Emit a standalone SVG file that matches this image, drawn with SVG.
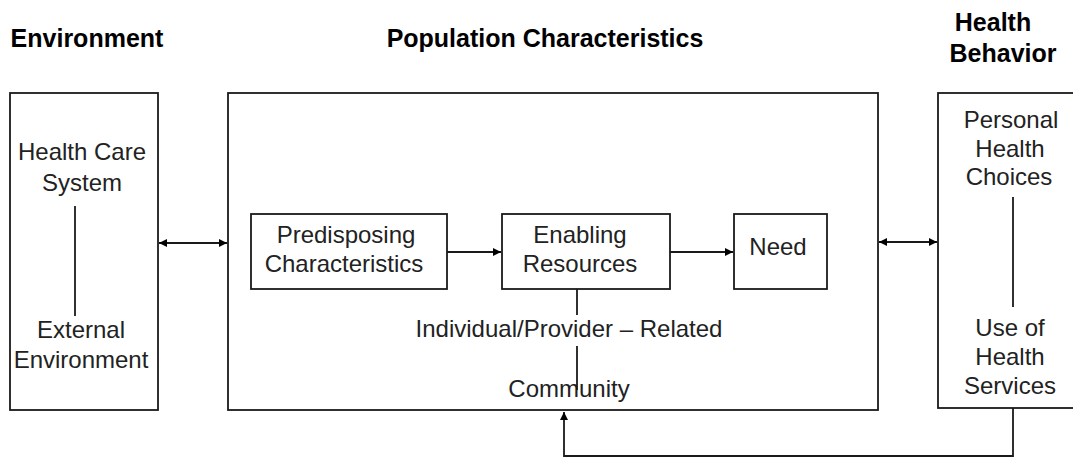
<svg xmlns="http://www.w3.org/2000/svg" width="1073" height="458" viewBox="0 0 1073 458">
<style>
.box{fill:#fff;stroke:#1a1a1a;stroke-width:1.8}
.ln{fill:none;stroke:#1a1a1a;stroke-width:1.8}
.t{font-family:"Liberation Sans",Arial,sans-serif;font-size:24px;fill:#222;text-anchor:middle}
.h{font-family:"Liberation Sans",Arial,sans-serif;font-size:25px;font-weight:bold;fill:#000;text-anchor:middle}
</style>
<defs>
<marker id="ah" viewBox="0 0 10 10" refX="10" refY="5" markerWidth="8" markerHeight="8" markerUnits="userSpaceOnUse" orient="auto-start-reverse">
<path d="M0,0 L10,5 L0,10 z" fill="#000"/>
</marker>
</defs>
<rect width="1073" height="458" fill="#fff"/>
<g id="titles">
<text class="h" x="87" y="47">Environment</text>
<text class="h" x="545" y="47">Population Characteristics</text>
<text class="h" x="993" y="31">Health</text>
<text class="h" x="1003" y="62">Behavior</text>
</g>
<g id="environment">
<rect class="box" x="10" y="93" width="148" height="317"/>
<text class="t" x="82" y="160">Health Care</text>
<text class="t" x="82" y="191">System</text>
<line class="ln" x1="75" y1="206" x2="75" y2="316"/>
<text class="t" x="81" y="338">External</text>
<text class="t" x="81" y="368">Environment</text>
</g>
<g id="population">
<rect class="box" x="228" y="93" width="650" height="317"/>
</g>
<g id="predisposing">
<rect class="box" x="251" y="214" width="196" height="75"/>
<text class="t" x="346" y="243">Predisposing</text>
<text class="t" x="344" y="272">Characteristics</text>
</g>
<g id="enabling">
<rect class="box" x="502" y="214" width="168" height="75"/>
<text class="t" x="580" y="243">Enabling</text>
<text class="t" x="580" y="272">Resources</text>
</g>
<g id="need">
<rect class="box" x="734" y="214" width="93" height="75"/>
<text class="t" x="778" y="255">Need</text>
</g>
<g id="enabling-sub">
<text class="t" x="569" y="337">Individual/Provider – Related</text>
<text class="t" x="569" y="397">Community</text>
</g>
<g id="behavior">
<rect class="box" x="938" y="93" width="140" height="315"/>
<text class="t" x="1011" y="128">Personal</text>
<text class="t" x="1010" y="157">Health</text>
<text class="t" x="1009" y="185">Choices</text>
<line class="ln" x1="1013" y1="197" x2="1013" y2="307"/>
<text class="t" x="1010" y="336">Use of</text>
<text class="t" x="1010" y="365">Health</text>
<text class="t" x="1010" y="394">Services</text>
</g>
<g id="connectors">
<line class="ln" x1="159" y1="243" x2="227" y2="243" marker-start="url(#ah)" marker-end="url(#ah)"/>
<line class="ln" x1="879" y1="242" x2="937" y2="242" marker-start="url(#ah)" marker-end="url(#ah)"/>
<line class="ln" x1="447" y1="252" x2="501" y2="252" marker-end="url(#ah)"/>
<line class="ln" x1="670" y1="252" x2="733" y2="252" marker-end="url(#ah)"/>
<line class="ln" x1="577" y1="289" x2="577" y2="315"/>
<line class="ln" x1="577" y1="346" x2="577" y2="390"/>
<polyline class="ln" points="1013,408 1013,456 564,456 564,412" marker-end="url(#ah)"/>
</g>
</svg>
